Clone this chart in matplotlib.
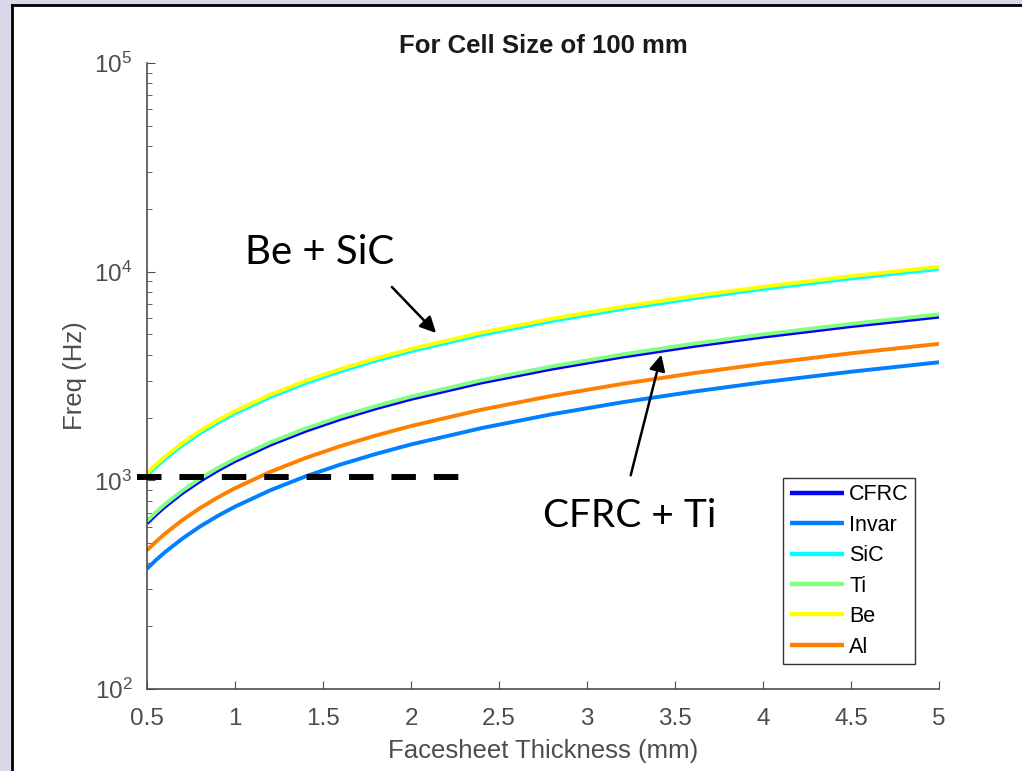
import matplotlib
matplotlib.use("Agg")
import matplotlib.pyplot as plt
from matplotlib.patches import Rectangle
from matplotlib.lines import Line2D

plt.rcParams["font.family"] = ["Liberation Sans", "DejaVu Sans"]
plt.rcParams["mathtext.default"] = "regular"

# facesheet thickness (mm)
thickness = [0.5, 0.55, 0.6, 0.7, 0.8, 0.9, 1.0, 1.2, 1.4, 1.6, 1.8, 2.0,
             2.4, 2.8, 3.2, 3.6, 4.0, 4.5, 5.0]

# frequency (Hz)
freq_cfrc = [623, 684, 746, 869, 991, 1114, 1237, 1481, 1725, 1969, 2213, 2456,
             2942, 3427, 3911, 4395, 4878, 5481, 6084]
freq_invar = [377, 414, 451, 525, 600, 674, 748, 896, 1044, 1191, 1338, 1486,
              1779, 2073, 2366, 2658, 2951, 3315, 3680]
freq_sic = [1054, 1158, 1262, 1470, 1678, 1885, 2093, 2507, 2920, 3333, 3745, 4156,
            4978, 5799, 6619, 7438, 8255, 9276, 10296]
freq_ti = [639, 702, 765, 891, 1017, 1143, 1268, 1519, 1770, 2020, 2269, 2519,
           3017, 3515, 4011, 4508, 5003, 5622, 6240]
freq_be = [1081, 1188, 1294, 1508, 1721, 1934, 2146, 2571, 2995, 3418, 3841, 4263,
           5106, 5948, 6789, 7628, 8467, 9514, 10560]
freq_al = [462, 507, 553, 644, 735, 826, 917, 1098, 1279, 1460, 1640, 1821,
           2181, 2540, 2899, 3258, 3616, 4063, 4510]

materials = ["CFRC", "Invar", "SiC", "Ti", "Be", "Al"]
series = [freq_cfrc, freq_invar, freq_sic, freq_ti, freq_be, freq_al]
colors = ["#0000ff", "#0080ff", "#00ffff", "#80ff80", "#ffff00", "#ff8000"]

W, H = 1022, 771
fig = plt.figure(figsize=(W / 100, H / 100), dpi=100)
fig.patch.set_facecolor("#d8d8e8")

# white slide panel with black left/top border
fig.patches.append(Rectangle((12 / W, 0), 1, (H - 5) / H, transform=fig.transFigure,
                             facecolor="white", edgecolor="none", zorder=-10))
fig.lines.append(Line2D([12 / W, 12 / W], [0, (H - 5) / H], transform=fig.transFigure,
                        color="black", lw=2, zorder=-5))
fig.lines.append(Line2D([12 / W, 1], [(H - 5) / H, (H - 5) / H], transform=fig.transFigure,
                        color="black", lw=2, zorder=-5))

ax = fig.add_axes([147 / W, 1 - 689 / H, 792 / W, 626 / H])
ax.set_facecolor("white")

for name, vals, c in zip(materials, series, colors):
    ax.plot(thickness, vals, color=c, lw=2.8, label=name,
            solid_capstyle="butt", solid_joinstyle="round")

ax.set_yscale("log")
ax.set_xlim(0.5, 5)
ax.set_ylim(1e2, 1e5)
ax.set_xticks([0.5, 1, 1.5, 2, 2.5, 3, 3.5, 4, 4.5, 5])
ax.set_xticklabels(["0.5", "1", "1.5", "2", "2.5", "3", "3.5", "4", "4.5", "5"])

gray = "#4d4d4d"
for side in ["top", "right"]:
    ax.spines[side].set_visible(False)
for side in ["left", "bottom"]:
    ax.spines[side].set_color(gray)
    ax.spines[side].set_linewidth(1.2)
ax.tick_params(which="both", direction="in", colors=gray, labelsize=17.5)
ax.tick_params(which="major", length=6)
ax.tick_params(which="minor", length=3.5)
ax.tick_params(axis="x", pad=14)
ax.tick_params(axis="y", pad=10.5)

ax.set_xlabel("Facesheet Thickness (mm)", fontsize=18.5, color=gray, labelpad=6)
ax.set_ylabel("Freq (Hz)", fontsize=18.5, color=gray, labelpad=5)
ax.set_title("For Cell Size of 100 mm", fontsize=18.5, fontweight="bold", color="#1a1a1a", pad=7)

leg = ax.legend(loc="lower right", bbox_to_anchor=(0.970, 0.04), fontsize=15.5,
                handlelength=2.5, labelspacing=0.44, handletextpad=0.25,
                borderpad=0.3, borderaxespad=0, fancybox=False, framealpha=1)
leg.get_frame().set_edgecolor("#333333")
leg.get_frame().set_linewidth(1)
for ln in leg.get_lines():
    ln.set_linewidth(3.2)

# slide annotations (figure pixel positions)
fig.lines.append(Line2D([137 / W, 459 / W], [1 - 477 / H, 1 - 477 / H], transform=fig.transFigure,
                        color="black", lw=4.3, dashes=(4.1, 3.0), zorder=5))
ann_font = ["Lato", "DejaVu Sans"]
fig.add_artist(plt.Annotation("", xy=(438, H - 335), xycoords="figure pixels",
                              xytext=(390, H - 285), textcoords="figure pixels",
                              arrowprops=dict(arrowstyle="-|>", color="black", lw=1.8,
                                              mutation_scale=24)))
fig.text(320 / W, 1 - 253 / H, "Be + SiC", fontsize=29, family=ann_font,
         ha="center", va="center")
fig.add_artist(plt.Annotation("", xy=(662, H - 352), xycoords="figure pixels",
                              xytext=(630, H - 478), textcoords="figure pixels",
                              arrowprops=dict(arrowstyle="-|>", color="black", lw=1.8,
                                              mutation_scale=24)))
fig.text(630 / W, 1 - 516 / H, "CFRC + Ti", fontsize=28, family=ann_font,
         ha="center", va="center")

fig.savefig("out.png", dpi=100, facecolor=fig.get_facecolor())
